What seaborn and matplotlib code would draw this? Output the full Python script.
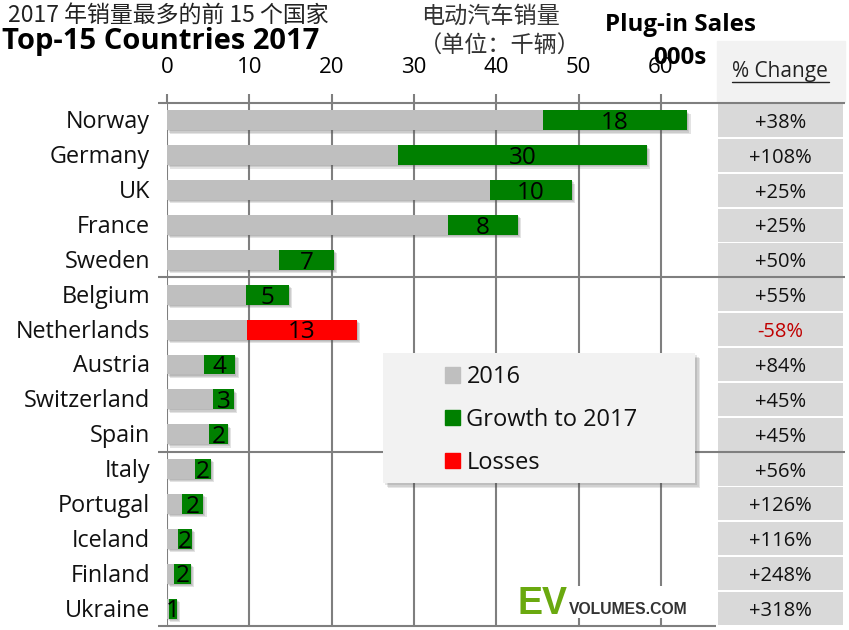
import numpy as np
import pandas as pd
import seaborn as sns
import matplotlib.pyplot as plt
import matplotlib.patheffects as pe
from matplotlib.lines import Line2D
from matplotlib.patches import Patch, Rectangle
from matplotlib.transforms import ScaledTranslation

# data (thousand units)
countries = ['Norway', 'Germany', 'UK', 'France', 'Sweden',
             'Belgium', 'Netherlands', 'Austria', 'Switzerland', 'Spain',
             'Italy', 'Portugal', 'Iceland', 'Finland', 'Ukraine']
base_sales = [45.7, 28.1, 39.2, 34.1, 13.6, 9.6, 9.7, 4.5, 5.6, 5.1, 3.4, 1.8, 1.3, 0.85, 0.25]
top_sales = [63.2, 58.3, 49.2, 42.6, 20.3, 14.8, 23.1, 8.3, 8.1, 7.4, 5.3, 4.4, 3.0, 2.9, 1.2]
delta_labels = ['18', '30', '10', '8', '7', '5', '13', '4', '3', '2', '2', '2', '2', '2', '1']
pct_change = ['+38%', '+108%', '+25%', '+25%', '+50%', '+55%', '-58%', '+84%',
              '+45%', '+45%', '+56%', '+126%', '+116%', '+248%', '+318%']
loss_countries = ['Netherlands']

W, H = 849, 630
GREY = '#bfbfbf'
GREEN = '#008000'
RED = '#ff0000'
LINE = '#7f7f7f'
FONT = 'Open Sans'
CJK = ['Noto Sans CJK SC', 'DejaVu Sans']

sns.set_theme(style='white')
plt.rcParams['font.family'] = [FONT, 'DejaVu Sans']


def box(x0, y0, x1, y1):
    # pixel box (from top left) -> figure fraction rect
    return [x0 / W, 1 - y1 / H, (x1 - x0) / W, (y1 - y0) / H]


def label(x, y, s, **kw):
    kw.setdefault('va', 'center')
    kw.setdefault('color', 'black')
    return fig.text(x / W, 1 - y / H, s, **kw)


def soft_shadow(step, alpha, color='#444444'):
    return [pe.SimplePatchShadow(offset=(step * k, -step * k), shadow_rgbFace=color, alpha=alpha)
            for k in (3, 2, 1)] + [pe.Normal()]


df = pd.DataFrame({'country': countries, 'base': base_sales, 'top': top_sales,
                   'delta': delta_labels, 'pct': pct_change, 'cell': 1})
palette = {c: (RED if c in loss_countries else GREEN) for c in countries}

fig = plt.figure(figsize=(W / 100, H / 100), dpi=100)
ax2 = fig.add_axes(box(718, 103, 843, 626), zorder=0)
ax = fig.add_axes(box(167, 103, 716, 626), zorder=1)
ax.patch.set_visible(False)

# change table on the right
sns.barplot(data=df, y='country', x='cell', color='#d9d9d9', saturation=1, width=0.945,
            linewidth=0, edgecolor='none', ax=ax2)
ax2.set_xlim(0, 1)
ax2.set_ylim(14.5, -0.5)
ax2.axis('off')
for i, row in df.iterrows():
    ax2.text(0.5, i + 0.07, row['pct'], ha='center', va='center', fontsize=14.5,
             color='#c00000' if row['pct'].startswith('-') else '#111111')

# bars: full length first, 2016 part on top of it
sns.barplot(data=df, y='country', x='top', hue='country', palette=palette, saturation=1,
            width=0.57, linewidth=0, edgecolor='none', legend=False, ax=ax, zorder=3)
for bar in ax.patches:
    bar.set_path_effects(soft_shadow(0.8, 0.16, '#555555'))
sns.barplot(data=df, y='country', x='base', color=GREY, saturation=1, width=0.57,
            linewidth=0, edgecolor='none', ax=ax, zorder=3)

for i, row in df.iterrows():
    ax.text((row['base'] + row['top']) / 2, i + 0.08, row['delta'], ha='center', va='center',
            fontsize=17.5, color='black', zorder=4)

ax.set_xlim(0, 66.7)
ax.set_ylim(14.5, -0.5)
ax.set_xlabel('')
ax.set_ylabel('')
ax.xaxis.tick_top()
ax.set_xticks(range(0, 61, 10))
ax.tick_params(axis='x', length=6.5, width=1.5, color=LINE, pad=11.5, labelsize=16, labelcolor='black', top=True)
ax.tick_params(axis='y', length=0, pad=13, labelsize=16.85, labelcolor='#111111')
for t in ax.get_yticklabels():
    t.set_transform(t.get_transform() + ScaledTranslation(1 / 100, 1 / 100, fig.dpi_scale_trans))
ax.set_axisbelow(True)
ax.grid(axis='x', color=LINE, lw=1.5)
ax.grid(axis='y', visible=False)
sns.despine(ax=ax, left=True, right=True, top=True, bottom=True)

# separators, they run past the axes on both sides
ax.hlines([-0.5, 4.5, 9.5], -1.1, 82.4, color=LINE, lw=1.5, clip_on=False, zorder=2)
ax.hlines([14.5], -1.1, 66.7, color=LINE, lw=1.5, clip_on=False, zorder=2)

# table header
fig.add_artist(Rectangle((717 / W, 1 - 102 / H), 128 / W, 61 / H, transform=fig.transFigure,
                         color='#f2f2f2', zorder=0.5))
label(780, 72, '% Change', ha='center', fontsize=15, color='#222222', zorder=6)
fig.add_artist(Line2D([732 / W, 829 / W], [1 - 82 / H] * 2, color='#222222', lw=1, zorder=6))

# titles
label(8, 15, '2017 年销量最多的前 15 个国家', family=CJK, fontsize=16.5, color='#222222', zorder=6)
label(2, 42, 'Top-15 Countries 2017', fontsize=21, fontweight='bold', zorder=6)
label(490, 16, '电动汽车销量', ha='center', family=CJK, fontsize=16.7, color='#333333', zorder=6)
label(500, 46, '（单位：千辆）', ha='center', family=CJK, fontsize=16.7, color='#333333', zorder=6)
label(680, 25, 'Plug-in Sales', ha='center', fontsize=17.4, fontweight='bold', zorder=6)
label(680, 58, '000s', ha='center', fontsize=17.4, fontweight='bold', zorder=6)

# legend panel with shadow
panel = Rectangle((383 / W, 1 - 483 / H), 312 / W, 130 / H, transform=fig.transFigure,
                  facecolor='#f2f2f2', edgecolor='none', zorder=4)
panel.set_path_effects(soft_shadow(1.3, 0.13))
fig.add_artist(panel)
handles = [Patch(color=GREY, label='2016'), Patch(color=GREEN, label='Growth to 2017'), Patch(color=RED, label='Losses')]
fig.legend(handles=handles, loc='upper left', bbox_to_anchor=(424 / W, 1 - 344 / H), frameon=False,
           fontsize=17, handlelength=0.62, handleheight=0.62, handletextpad=0.28, labelspacing=0.79,
           labelcolor='#111111')

# logo, white block breaks the grid lines
fig.add_artist(Rectangle((510 / W, 1 - 618 / H), 190 / W, 32 / H, transform=fig.transFigure,
                         facecolor='white', edgecolor='none', zorder=3))
label(518, 604, 'EV', family='Liberation Sans', fontweight='bold', fontsize=27, color='#6aa90f', zorder=6)
label(569, 609, 'VOLUMES.COM', family='Liberation Sans', fontweight='bold', fontsize=11.3, color='#333333', zorder=6)

fig.savefig('out.png', dpi=100)
